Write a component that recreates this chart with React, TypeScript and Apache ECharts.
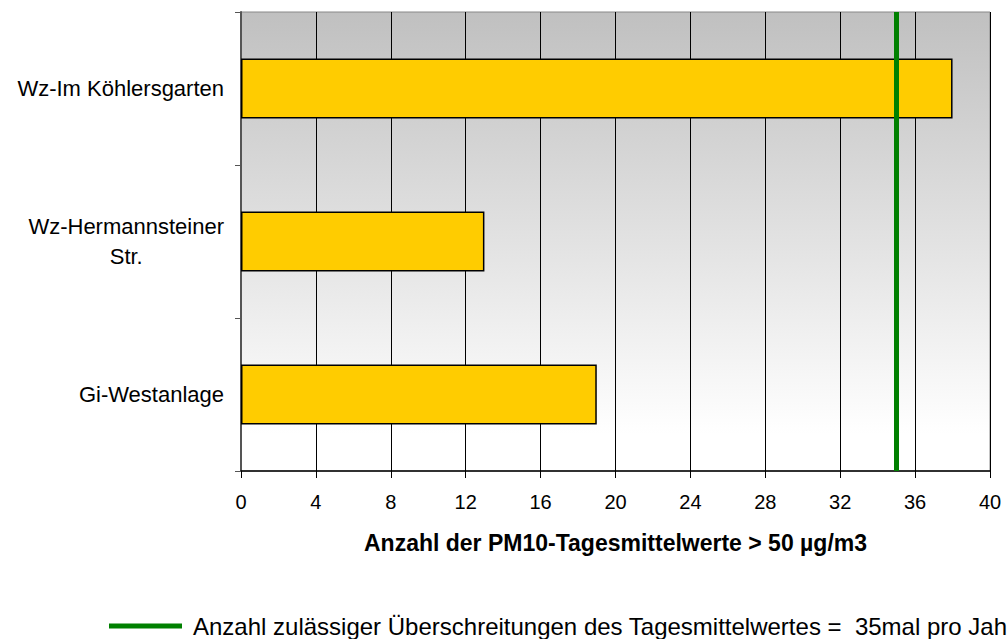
import React, { useEffect, useRef } from "react";
import * as echarts from "echarts";

const categories = ["Wz-Im Köhlersgarten", "Wz-Hermannsteiner\nStr.", "Gi-Westanlage"];
const values = [38, 13, 19];
const thresholdValue = 35;
const thresholdName = "Anzahl zulässiger Überschreitungen des Tagesmittelwertes =  35mal pro Jahr";
const axisTitle = "Anzahl der PM10-Tagesmittelwerte > 50 µg/m3";

const FONT = "'Liberation Sans', Arial, sans-serif";

export default function App() {
  const ref = useRef<HTMLDivElement>(null);
  useEffect(() => {
    if (!ref.current) return;
    const chart = echarts.init(ref.current, undefined, { renderer: "svg" });
    chart.setOption({
      animation: false,
      textStyle: { fontFamily: FONT },
      grid: {
        left: 241,
        right: 17,
        top: 12,
        bottom: 168,
        show: true,
        borderColor: "#888888",
        borderWidth: 1,
        backgroundColor: new echarts.graphic.LinearGradient(0, 0, 0, 1, [
          { offset: 0, color: "#c0c0c0" },
          { offset: 0.92, color: "#ffffff" },
          { offset: 1, color: "#ffffff" },
        ]),
      },
      legend: {
        show: true,
        left: 104,
        top: 609,
        icon: "rect",
        itemWidth: 73,
        itemHeight: 5,
        data: [thresholdName],
        textStyle: {
          fontFamily: FONT,
          fontSize: 24,
          color: "#000",
          padding: [0, 0, 16, 6],
        },
      },
      xAxis: {
        type: "value",
        min: 0,
        max: 40,
        interval: 4,
        name: axisTitle,
        nameLocation: "middle",
        nameGap: 60,
        nameTextStyle: { fontFamily: FONT, fontSize: 23, fontWeight: "bold", color: "#000" },
        axisLine: { show: true, lineStyle: { color: "#000", width: 1.5 } },
        axisTick: { show: true, length: 7, lineStyle: { color: "#000", width: 1 } },
        axisLabel: { fontFamily: FONT, fontSize: 20, color: "#000", margin: 21 },
        splitLine: { show: true, lineStyle: { color: "#000", width: 1 } },
      },
      yAxis: {
        type: "category",
        inverse: true,
        data: categories,
        axisLine: { show: true, lineStyle: { color: "#555", width: 2 } },
        axisTick: { show: true, length: 6, alignWithLabel: false, lineStyle: { color: "#555", width: 1 } },
        axisLabel: {
          margin: 17,
          color: "#000",
          formatter: (v: string) =>
            v
              .split("\n")
              .map((l) => `{c|${l}}`)
              .join("\n"),
          rich: {
            c: { align: "center", fontFamily: FONT, fontSize: 22, lineHeight: 30, color: "#000" },
          },
        },
        splitLine: { show: false },
      },
      series: [
        {
          type: "bar",
          data: values,
          barWidth: 60,
          itemStyle: { color: "#ffcc00", borderColor: "#000", borderWidth: 1.5 },
          z: 2,
        },
        {
          type: "line",
          name: thresholdName,
          data: [],
          itemStyle: { color: "#008000" },
          lineStyle: { color: "#008000", width: 5 },
          markLine: {
            silent: true,
            symbol: "none",
            label: { show: false },
            lineStyle: { color: "#008000", width: 5, type: "solid" },
            data: [{ xAxis: thresholdValue }],
          },
          z: 3,
        },
      ],
    });
    return () => chart.dispose();
  }, []);
  return (
    <div
      ref={ref}
      style={{ position: "absolute", left: 0, top: 0, width: 1007, height: 639, overflow: "hidden" }}
    />
  );
}
